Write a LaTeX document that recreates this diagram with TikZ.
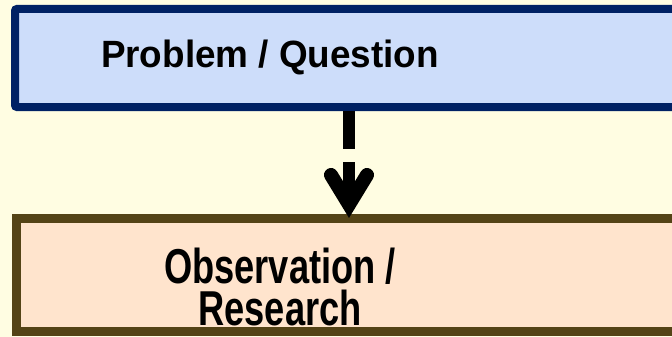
\documentclass[tikz,border=0pt]{standalone}
\usepackage{fontspec}
\setmainfont{Liberation Sans}
\usepackage{graphicx}
\definecolor{pagebg}{RGB}{255,253,226}
\definecolor{qfill}{RGB}{205,221,250}
\definecolor{qedge}{RGB}{0,33,100}
\definecolor{ofill}{RGB}{255,228,205}
\definecolor{oedge}{RGB}{84,67,22}
\begin{document}
\begin{tikzpicture}[x=1pt,y=-1pt,
  qbox/.style={draw=qedge, fill=qfill, line width=8pt, rounded corners=2pt,
    rectangle, inner sep=0pt},
  obox/.style={draw=oedge, fill=ofill, line width=9pt, rectangle, inner sep=0pt},
  qtext/.style={inner sep=0pt, anchor=base, font=\fontsize{38}{40}\selectfont\bfseries},
  otext/.style={inner sep=0pt, anchor=base, align=center,
    font=\fontsize{49}{42}\selectfont\bfseries},
  shaft/.style={draw=black, line width=12pt, dash pattern=on 38pt off 13pt},
  headstroke/.style={draw=black, line width=14pt, line cap=round, line join=miter}]
  % canvas
  \useasboundingbox (0,0) rectangle (672,337);
  \fill[pagebg] (0,0) rectangle (672,337);
  \clip (0,0) rectangle (672,337);

  % the two boxes run past the right edge
  \node[qbox, minimum width=685pt, minimum height=98pt] (problem) at (357.5,58) {};
  \node[obox, minimum width=683.5pt, minimum height=113pt] (observe) at (358.25,275) {};

  % labels (base anchor sits on the last line)
  \node[qtext] (problemlabel) at (270,68) {\scalebox{0.97}[1]{Problem / Question}};
  \node[otext] (observelabel) at (280,325)
    {\scalebox{0.74}[1]{Observation /}\\\scalebox{0.74}[1]{Research}};

  % dashed arrow from the question to the observation box
  \coordinate (vtx) at (349,204.5);
  \draw[shaft] (vtx |- problem.south) -- (vtx);
  \draw[headstroke] (vtx) ++(-18,-29.5) -- (vtx) -- ++(18,-29.5);
\end{tikzpicture}
\end{document}
